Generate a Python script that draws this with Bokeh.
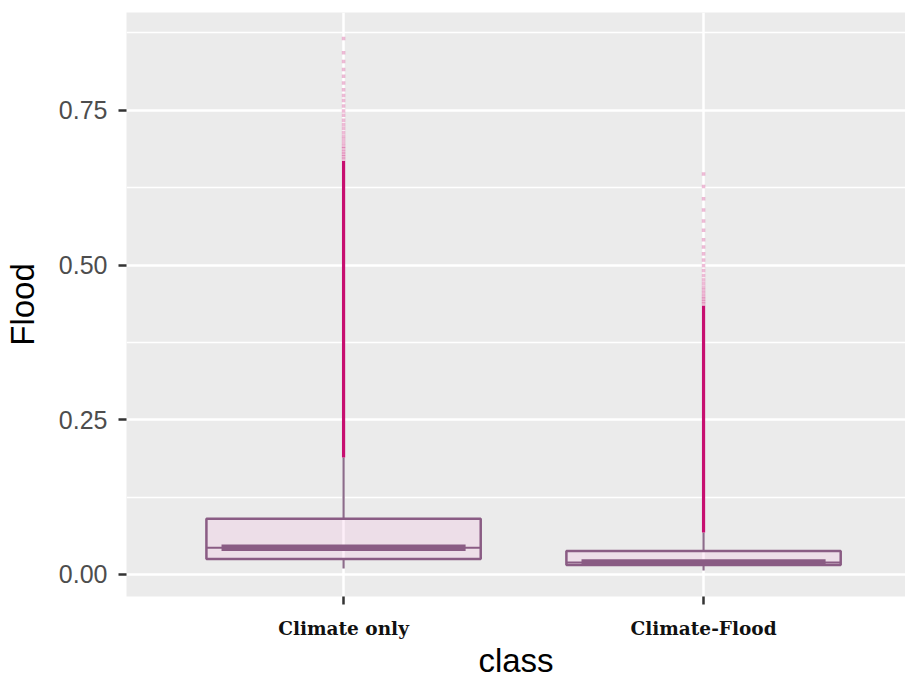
from bokeh.plotting import figure
from bokeh.models import Range1d, FixedTicker
from bokeh.embed import file_html
from bokeh.resources import INLINE

# ---- data ----
categories = ["Climate only", "Climate-Flood"]
q1 = [0.0250, 0.0154]
median = [0.0432, 0.0194]
q3 = [0.0900, 0.0380]
whisker_lo = [0.0097, 0.0065]
whisker_hi = [0.189, 0.068]
dense_outlier_top = [0.668, 0.434]
sparse_outliers_climate_only = [0.671, 0.675, 0.679, 0.683, 0.688, 0.692, 0.697, 0.703,
                                0.708, 0.714, 0.721, 0.727, 0.734, 0.742, 0.749, 0.757,
                                0.766, 0.774, 0.783, 0.794, 0.805, 0.816, 0.829, 0.843, 0.866]
sparse_outliers_climate_flood = [0.437, 0.441, 0.445, 0.449, 0.454, 0.459, 0.464, 0.470,
                                 0.476, 0.483, 0.491, 0.499, 0.508, 0.518, 0.529, 0.541,
                                 0.556, 0.571, 0.589, 0.607, 0.627, 0.647]
y_ticks = [0.0, 0.25, 0.5, 0.75]
y_minor = [0.125, 0.375, 0.625, 0.875]

xs = [i + 1 for i in range(len(categories))]

BOX_W = 0.762
MED_W = 0.678
PURPLE = "#8A5C84"
WHISK = "#8C6C8A"
MAGENTA = "#C70E70"

p = figure(frame_width=779, frame_height=584,
           min_border_left=122, min_border_right=0, min_border_top=12, min_border_bottom=74,
           x_range=Range1d(0.397, 2.561), y_range=Range1d(-0.0356, 0.908),
           output_backend="svg", toolbar_location=None,
           background_fill_color="#EBEBEB", border_fill_color="white",
           outline_line_color=None)

# grid
p.xgrid.ticker = FixedTicker(ticks=xs)
p.xgrid.grid_line_color = "white"
p.xgrid.grid_line_width = 2.5
p.ygrid.ticker = FixedTicker(ticks=y_ticks, minor_ticks=y_minor)
p.ygrid.grid_line_color = "white"
p.ygrid.grid_line_width = 2.5
p.ygrid.minor_grid_line_color = "white"
p.ygrid.minor_grid_line_width = 1.3

# axes
p.xaxis.ticker = FixedTicker(ticks=xs)
p.xaxis.major_label_overrides = {x: c for x, c in zip(xs, categories)}
p.yaxis.ticker = FixedTicker(ticks=y_ticks)
p.yaxis.major_label_overrides = {t: f"{t:.2f}" for t in y_ticks}
for ax in (p.xaxis[0], p.yaxis[0]):
    ax.axis_line_color = None
    ax.minor_tick_line_color = None
    ax.major_tick_line_color = "#333333"
    ax.major_tick_line_width = 2.5
    ax.major_tick_in = 0
    ax.major_tick_out = 8

p.yaxis.major_label_text_font = "Liberation Sans"
p.yaxis.major_label_text_font_size = "25px"
p.yaxis.major_label_text_color = "#4D4D4D"
p.yaxis.major_label_standoff = 11
p.yaxis.axis_label = "Flood"
p.yaxis.axis_label_text_font = "Liberation Sans"
p.yaxis.axis_label_text_font_size = "33px"
p.yaxis.axis_label_text_font_style = "normal"
p.yaxis.axis_label_text_color = "black"
p.yaxis.axis_label_standoff = 15

p.xaxis.major_label_text_font = "DejaVu Serif"
p.xaxis.major_label_text_font_style = "bold"
p.xaxis.major_label_text_font_size = "18.5px"
p.xaxis.major_label_text_color = "#111111"
p.xaxis.major_label_standoff = 13
p.xaxis.axis_label = "class"
p.xaxis.axis_label_text_font = "Liberation Sans"
p.xaxis.axis_label_text_font_size = "33px"
p.xaxis.axis_label_text_font_style = "normal"
p.xaxis.axis_label_text_color = "black"
p.xaxis.axis_label_standoff = 0

# whiskers
p.segment(x0=xs, x1=xs, y0=q3, y1=whisker_hi, line_color=WHISK, line_width=2.2)
p.segment(x0=xs, x1=xs, y0=q1, y1=whisker_lo, line_color=WHISK, line_width=2.2)

# outliers: dense run + sparse points
p.segment(x0=xs, x1=xs, y0=whisker_hi, y1=dense_outlier_top, line_color=MAGENTA, line_width=3.2)
p.scatter(x=[xs[0]] * len(sparse_outliers_climate_only), y=sparse_outliers_climate_only,
          marker="square", size=3.5, fill_color=MAGENTA, fill_alpha=0.28, line_color=None)
p.scatter(x=[xs[1]] * len(sparse_outliers_climate_flood), y=sparse_outliers_climate_flood,
          marker="square", size=3.5, fill_color=MAGENTA, fill_alpha=0.28, line_color=None)

# boxes
p.vbar(x=xs, width=BOX_W, bottom=q1, top=q3, fill_color="#F7A8DB", fill_alpha=0.2,
       line_color=PURPLE, line_width=2.5)
p.segment(x0=[x - BOX_W / 2 for x in xs], x1=[x + BOX_W / 2 for x in xs], y0=median, y1=median,
          line_color=PURPLE, line_width=2)
p.segment(x0=[x - MED_W / 2 for x in xs], x1=[x + MED_W / 2 for x in xs], y0=median, y1=median,
          line_color=PURPLE, line_width=6.5, line_cap="butt")

open("out.html", "w").write(file_html(p, INLINE))
